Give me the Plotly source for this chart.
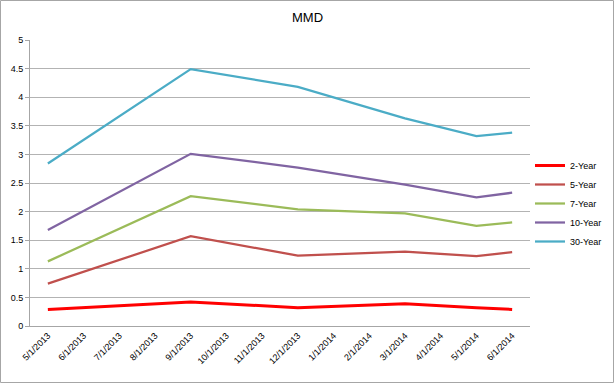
import plotly.graph_objects as go

months = ["5/1/2013", "6/1/2013", "7/1/2013", "8/1/2013", "9/1/2013", "10/1/2013",
          "11/1/2013", "12/1/2013", "1/1/2014", "2/1/2014", "3/1/2014", "4/1/2014",
          "5/1/2014", "6/1/2014"]
N = None
y2 = [0.29, N, N, N, 0.42, N, N, 0.32, N, N, 0.39, N, 0.32, 0.29]
y5 = [0.74, N, N, N, 1.57, N, N, 1.23, N, N, 1.30, N, 1.22, 1.29]
y7 = [1.13, N, N, N, 2.27, N, N, 2.04, N, N, 1.97, N, 1.75, 1.81]
y10 = [1.68, N, N, N, 3.01, N, N, 2.77, N, N, 2.47, N, 2.25, 2.33]
y30 = [2.84, N, N, N, 4.49, N, N, 4.18, N, N, 3.63, N, 3.32, 3.38]

series = [("2-Year", y2, "#FF0000", 3), ("5-Year", y5, "#C0504D", 2.25),
          ("7-Year", y7, "#9BBB59", 2.25), ("10-Year", y10, "#8064A2", 2.25),
          ("30-Year", y30, "#4BACC6", 2.25)]

fig = go.Figure()
for name, ys, col, w in series:
    fig.add_trace(go.Scatter(x=months, y=ys, name=name, mode="lines",
                             connectgaps=True, line=dict(color=col, width=w)))

fig.update_layout(
    width=615, height=383,
    margin=dict(l=30, r=85, t=40, b=57, autoexpand=False),
    paper_bgcolor="white", plot_bgcolor="white",
    font=dict(family="Liberation Sans, Arial, sans-serif", size=9, color="#000000"),
    title=dict(text="MMD", x=0.5, xref="container", xanchor="center",
               y=1 - 17 / 383, yanchor="middle", font=dict(size=13)),
    showlegend=True,
    legend=dict(x=530 / 615, xref="container", y=1 - 151 / 383, yref="container",
                xanchor="left", yanchor="top", font=dict(size=9),
                bgcolor="rgba(0,0,0,0)", tracegroupgap=0, itemwidth=30),
    xaxis=dict(type="category", tickangle=-45, showgrid=False, showline=True,
               linecolor="#A6A6A6", linewidth=1, ticks="", tickfont=dict(size=9),
               range=[-0.5, 13.5], automargin=False),
    yaxis=dict(range=[0, 5], dtick=0.5, showgrid=True, gridcolor="#B3B3B3",
               gridwidth=1, showline=True, linecolor="#A6A6A6", linewidth=1,
               zeroline=False, ticks="outside", ticklen=4, tickcolor="#A6A6A6",
               tickfont=dict(size=9), tickformat="~g", automargin=False),
)
fig.add_shape(type="rect", xref="paper", yref="paper",
              x0=-29.5 / 500, x1=583.5 / 500, y0=-56.5 / 286, y1=(286 + 39.5) / 286,
              line=dict(color="#A6A6A6", width=1), fillcolor="rgba(0,0,0,0)")
fig.write_html("out.html", config={"displayModeBar": False},
               post_script="document.body.style.margin='0';document.body.style.overflow='hidden';")
